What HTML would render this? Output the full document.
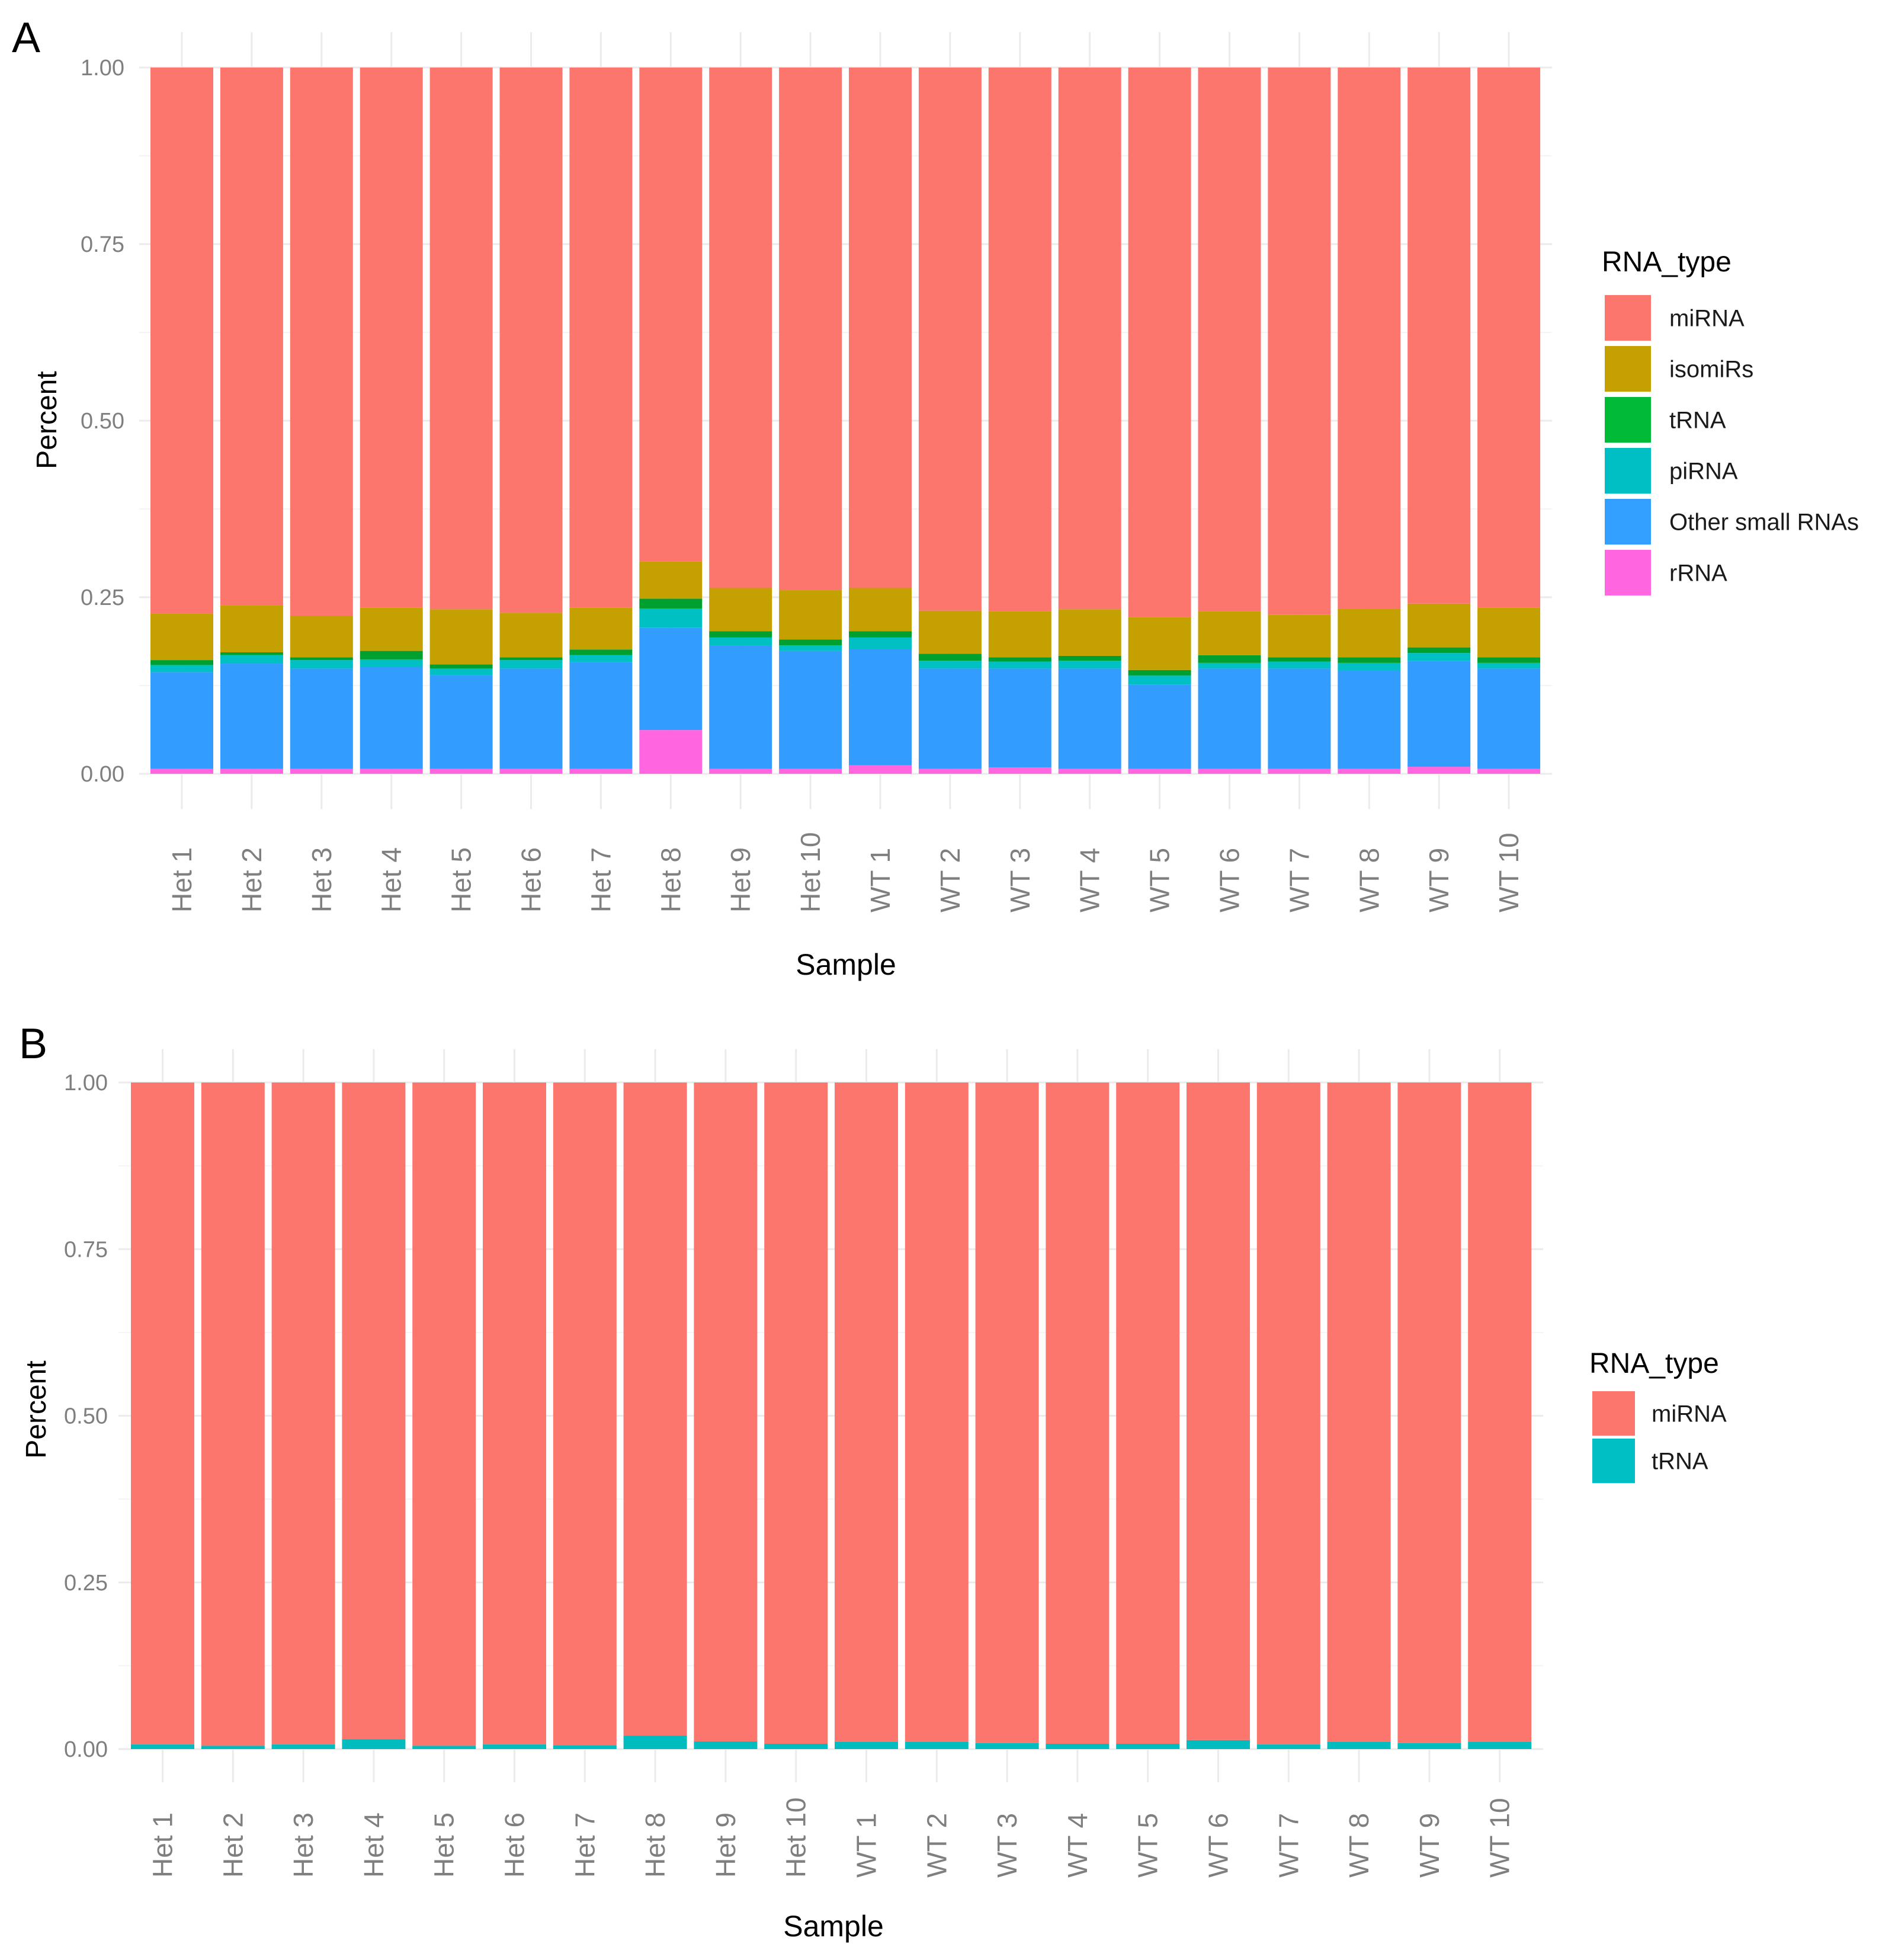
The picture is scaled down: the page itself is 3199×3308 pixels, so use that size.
<!DOCTYPE html>
<html><head><meta charset="utf-8"><style>
html,body{margin:0;padding:0;background:#fff}
svg{display:block}
text{font-family:"Liberation Sans",Arial,sans-serif}
</style></head><body>
<svg id="fig" width="3199" height="3308" viewBox="0 0 3199 3308" xmlns="http://www.w3.org/2000/svg">
<text x="20" y="88" font-size="72" fill="#000">A</text>
<text x="32" y="1786" font-size="72" fill="#000">B</text>
<g id="pa"></g>
<g id="pb"></g>
</svg>
<script>
const samples = ["Het 1","Het 2","Het 3","Het 4","Het 5","Het 6","Het 7","Het 8","Het 9","Het 10","WT 1","WT 2","WT 3","WT 4","WT 5","WT 6","WT 7","WT 8","WT 9","WT 10"];
const yTicks = [0, 0.25, 0.5, 0.75, 1];
const yTickLabels = ["0.00","0.25","0.50","0.75","1.00"];
// Panel A stacked segments (bottom to top); miRNA fills remainder
const aRRNA  = [.007,.007,.007,.007,.007,.007,.007,.062,.007,.007,.012,.007,.009,.007,.007,.007,.007,.007,.010,.007];
const aOther = [.137,.149,.142,.144,.133,.142,.151,.145,.175,.167,.165,.142,.140,.142,.119,.142,.142,.139,.150,.142];
const aPiRNA = [.010,.012,.012,.011,.009,.012,.010,.027,.011,.008,.016,.011,.010,.011,.013,.008,.010,.011,.011,.008];
const aTRNA  = [.007,.004,.004,.012,.006,.004,.008,.014,.009,.008,.009,.010,.006,.007,.008,.011,.006,.008,.008,.008];
const aIso   = [.066,.067,.059,.061,.078,.063,.059,.053,.061,.070,.061,.061,.065,.066,.075,.062,.060,.069,.062,.070];
// Panel B
const bTRNA  = [.007,.005,.007,.015,.005,.007,.006,.020,.0115,.008,.011,.011,.009,.008,.008,.0135,.007,.011,.009,.011];
const aTypes = ["miRNA","isomiRs","tRNA","piRNA","Other small RNAs","rRNA"];
const bTypes = ["miRNA","tRNA"];

const NS="http://www.w3.org/2000/svg";
function mk(parent,tag,attrs,txt){const e=document.createElementNS(NS,tag);for(const k in attrs)e.setAttribute(k,attrs[k]);if(txt!==undefined)e.textContent=txt;parent.appendChild(e);return e;}

function panel(g,cfg){
  const yS=v=>cfg.y0-v*(cfg.y0-cfg.y1);
  const xC=i=>cfg.x0+cfg.bw/2+i*cfg.pitch;
  const top=yS(1.05), bot=yS(-0.05);
  // gridlines
  yTicks.forEach((t,i)=>{
    const l=mk(g,'line',{x1:cfg.gl,x2:cfg.gr,y1:yS(t),y2:yS(t),stroke:'#ebebeb','stroke-width':3});
    
    
    if(i<4){const m=mk(g,'line',{x1:cfg.gl,x2:cfg.gr,y1:yS(t+0.125),y2:yS(t+0.125),stroke:'#f4f4f4','stroke-width':2});
    
    }
    const tx=mk(g,'text',{x:cfg.tlx,y:yS(t)+13,'font-size':38,'text-anchor':'end',fill:'#7f7f7f'},yTickLabels[i]);
    
    
  });
  samples.forEach((s,i)=>{
    const l=mk(g,'line',{x1:xC(i),x2:xC(i),y1:top,y2:bot,stroke:'#ebebeb','stroke-width':3});
    
    
  });
  // bars
  samples.forEach((s,i)=>{
    let base=0;
    const segs=cfg.segs(i);
    segs.forEach(sg=>{
      const y1=yS(base+sg.v), y2=yS(base);
      const r=mk(g,'rect',{x:xC(i)-cfg.bw/2,y:y1,width:cfg.bw,height:Math.max(0,y2-y1),fill:sg.c});
      
      
      base+=sg.v;
    });
    const t=mk(g,'text',{x:xC(i)+16,y:cfg.labY,'font-size':46,fill:'#7f7f7f',transform:`rotate(-90 ${xC(i)+16} ${cfg.labY})`},s);
    
    
  });
  const xt=mk(g,'text',{x:cfg.sx,y:cfg.sy,'font-size':50,'text-anchor':'middle',fill:'#000'},'Sample');
  
  
  const yt=mk(g,'text',{x:cfg.px,y:cfg.py,'font-size':48,'text-anchor':'middle',fill:'#000',transform:`rotate(-90 ${cfg.px} ${cfg.py})`},'Percent');
  
  
  // legend
  const lt=mk(g,'text',{x:cfg.lx,y:cfg.ly,'font-size':48,fill:'#000'},'RNA_type');
  
  
  cfg.types.forEach((t,k)=>{
    const ky=cfg.lky+k*cfg.lp;
    const r=mk(g,'rect',{x:cfg.lkx,y:ky,width:cfg.lkw,height:cfg.lkh,fill:cfg.lcol[k]});
    
    
    const tx=mk(g,'text',{x:cfg.ltx,y:ky+cfg.lkh/2+14,'font-size':40,fill:'#1a1a1a'},t);
    
    
  });
}
const C={mi:'#fd766e',iso:'#c4a000',t:'#00a030',pi:'#00c0c4',oth:'#339cff',r:'#ff66e0'};
panel(document.getElementById('pa'),{
  y1:114,y0:1306,x0:254,bw:106,pitch:117.9,gl:235,gr:2620,tlx:210,labY:1540,sx:1428,sy:1645,px:95,py:709,
  segs:i=>{const s=aRRNA[i]+aOther[i]+aPiRNA[i]+aTRNA[i]+aIso[i];return [
    {n:'rRNA',v:aRRNA[i],c:C.r},{n:'Other',v:aOther[i],c:C.oth},{n:'piRNA',v:aPiRNA[i],c:C.pi},
    {n:'tRNA',v:aTRNA[i],c:C.t},{n:'isomiRs',v:aIso[i],c:C.iso},{n:'miRNA',v:1-s,c:C.mi}];},
  types:aTypes,lcol:['#fd766e','#c4a000','#00ba38','#00bfc4','#33a0ff','#ff66e0'],
  lx:2704,ly:458,lkx:2709,lky:498,lkw:78,lkh:77,lp:86,ltx:2818
});
panel(document.getElementById('pb'),{
  y1:1827,y0:2952,x0:221,bw:107,pitch:118.8,gl:200,gr:2605,tlx:182,labY:3169,sx:1407,sy:3268,px:77,py:2379,
  segs:i=>[{n:'tRNA',v:bTRNA[i],c:'#00bcbe'},{n:'miRNA',v:1-bTRNA[i],c:C.mi}],
  types:bTypes,lcol:['#fd766e','#00bfc4'],
  lx:2683,ly:2317,lkx:2688,lky:2348,lkw:72,lkh:75,lp:80,ltx:2788
});
</script>
</body></html>
